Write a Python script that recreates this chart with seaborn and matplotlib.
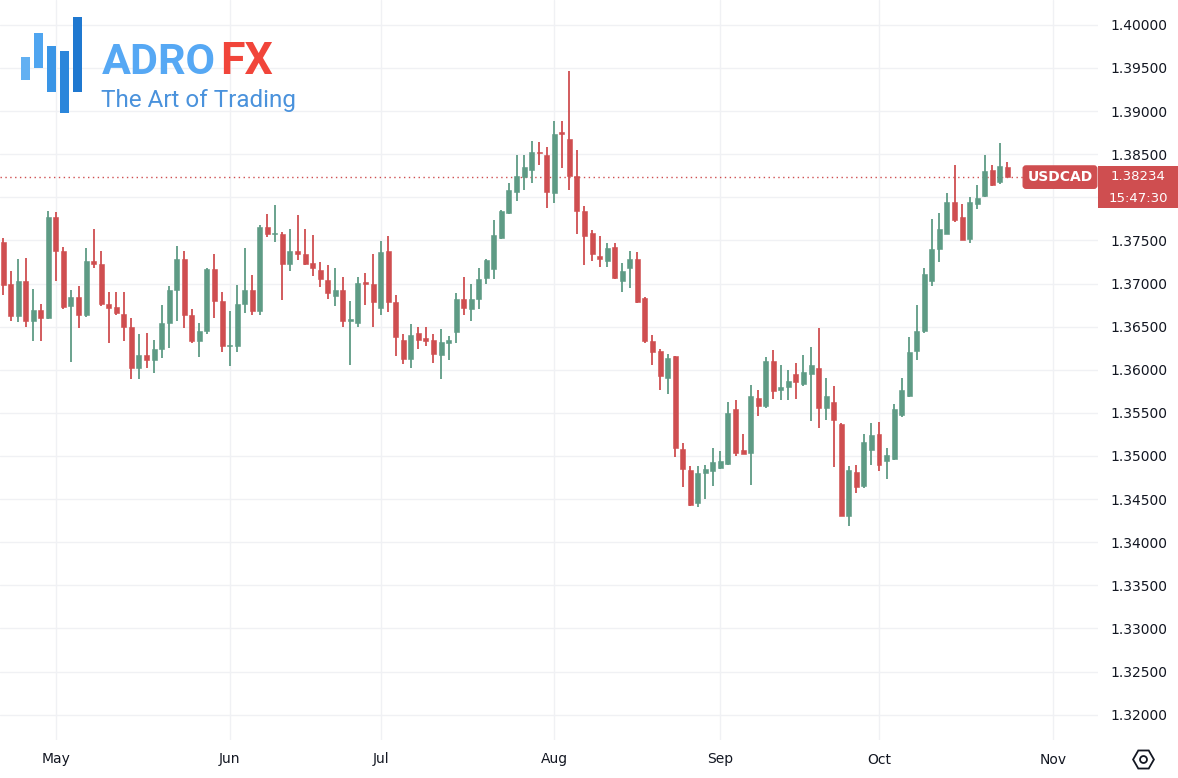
import numpy as np
import pandas as pd
import matplotlib
matplotlib.use("Agg")
import matplotlib.pyplot as plt
import seaborn as sns
from matplotlib.patches import Rectangle
from matplotlib.lines import Line2D
import matplotlib.transforms as mtrans

# ---------------- data (USDCAD daily) ----------------
START = "2024-04-22"
SYMBOL = "USDCAD"
LAST_PRICE_TEXT = "1.38234"
COUNTDOWN_TEXT = "15:47:30"

opens = [1.3748, 1.3699, 1.3662, 1.3703, 1.3657, 1.3669, 1.3660, 1.3777, 1.3738, 1.3674,
         1.3684, 1.3663, 1.3726, 1.3723, 1.3676, 1.3673, 1.3665, 1.3650, 1.3602, 1.3617,
         1.3611, 1.3624, 1.3654, 1.3693, 1.3729, 1.3664, 1.3633, 1.3645, 1.3717, 1.3680,
         1.3627, 1.3627, 1.3676, 1.3693, 1.3668, 1.3766, 1.3757, 1.3757, 1.3723, 1.3738,
         1.3734, 1.3724, 1.3716, 1.3704, 1.3686, 1.3692, 1.3657, 1.3654, 1.3702, 1.3699,
         1.3672, 1.3738, 1.3678, 1.3635, 1.3612, 1.3643, 1.3637, 1.3635, 1.3617, 1.3631,
         1.3644, 1.3682, 1.3671, 1.3682, 1.3706, 1.3717, 1.3753, 1.3782, 1.3806, 1.3823,
         1.3832, 1.3852, 1.3849, 1.3805, 1.3876, 1.3868, 1.3825, 1.3784, 1.3759, 1.3732,
         1.3726, 1.3742, 1.3703, 1.3718, 1.3728, 1.3683, 1.3633, 1.3622, 1.3590, 1.3616,
         1.3508, 1.3484, 1.3446, 1.3480, 1.3483, 1.3486, 1.3491, 1.3554, 1.3507, 1.3504,
         1.3567, 1.3558, 1.3610, 1.3576, 1.3580, 1.3595, 1.3584, 1.3595, 1.3602, 1.3556,
         1.3563, 1.3537, 1.3430, 1.3481, 1.3465, 1.3507, 1.3526, 1.3494, 1.3496, 1.3548,
         1.3569, 1.3622, 1.3645, 1.3703, 1.3740, 1.3757, 1.3795, 1.3777, 1.3752, 1.3792,
         1.3802, 1.3832, 1.3818, 1.3835]
highs = [1.3753, 1.3714, 1.3728, 1.3730, 1.3694, 1.3676, 1.3784, 1.3783, 1.3742, 1.3692,
         1.3697, 1.3741, 1.3763, 1.3738, 1.3690, 1.3690, 1.3690, 1.3660, 1.3641, 1.3643,
         1.3635, 1.3675, 1.3697, 1.3743, 1.3738, 1.3670, 1.3654, 1.3718, 1.3734, 1.3690,
         1.3668, 1.3698, 1.3741, 1.3710, 1.3768, 1.3781, 1.3791, 1.3760, 1.3763, 1.3779,
         1.3763, 1.3756, 1.3725, 1.3721, 1.3718, 1.3707, 1.3680, 1.3707, 1.3712, 1.3734,
         1.3749, 1.3755, 1.3687, 1.3641, 1.3653, 1.3649, 1.3649, 1.3642, 1.3647, 1.3639,
         1.3689, 1.3707, 1.3700, 1.3718, 1.3728, 1.3774, 1.3785, 1.3816, 1.3849, 1.3849,
         1.3865, 1.3864, 1.3858, 1.3888, 1.3888, 1.3946, 1.3855, 1.3790, 1.3762, 1.3755,
         1.3747, 1.3747, 1.3724, 1.3738, 1.3736, 1.3684, 1.3640, 1.3624, 1.3618, 1.3616,
         1.3515, 1.3488, 1.3488, 1.3490, 1.3509, 1.3506, 1.3563, 1.3565, 1.3525, 1.3582,
         1.3577, 1.3615, 1.3623, 1.3605, 1.3600, 1.3608, 1.3617, 1.3626, 1.3648, 1.3590,
         1.3581, 1.3538, 1.3488, 1.3490, 1.3526, 1.3538, 1.3539, 1.3509, 1.3560, 1.3590,
         1.3638, 1.3675, 1.3718, 1.3775, 1.3782, 1.3805, 1.3838, 1.3792, 1.3800, 1.3814,
         1.3849, 1.3837, 1.3863, 1.3841]
lows = [1.3687, 1.3656, 1.3655, 1.3650, 1.3633, 1.3633, 1.3659, 1.3703, 1.3670, 1.3609,
        1.3648, 1.3661, 1.3718, 1.3674, 1.3631, 1.3664, 1.3633, 1.3589, 1.3589, 1.3602,
        1.3596, 1.3614, 1.3625, 1.3657, 1.3648, 1.3631, 1.3615, 1.3641, 1.3660, 1.3620,
        1.3604, 1.3620, 1.3666, 1.3663, 1.3663, 1.3754, 1.3748, 1.3681, 1.3715, 1.3727,
        1.3721, 1.3709, 1.3696, 1.3682, 1.3674, 1.3650, 1.3605, 1.3650, 1.3675, 1.3650,
        1.3663, 1.3667, 1.3616, 1.3607, 1.3602, 1.3624, 1.3628, 1.3608, 1.3589, 1.3611,
        1.3631, 1.3664, 1.3657, 1.3670, 1.3700, 1.3705, 1.3752, 1.3781, 1.3796, 1.3808,
        1.3817, 1.3838, 1.3787, 1.3793, 1.3834, 1.3809, 1.3757, 1.3721, 1.3726, 1.3719,
        1.3719, 1.3705, 1.3690, 1.3695, 1.3677, 1.3631, 1.3605, 1.3576, 1.3572, 1.3499,
        1.3464, 1.3442, 1.3441, 1.3450, 1.3465, 1.3485, 1.3490, 1.3500, 1.3502, 1.3466,
        1.3546, 1.3556, 1.3566, 1.3565, 1.3565, 1.3566, 1.3581, 1.3541, 1.3533, 1.3542,
        1.3487, 1.3430, 1.3419, 1.3457, 1.3463, 1.3490, 1.3482, 1.3473, 1.3495, 1.3545,
        1.3568, 1.3611, 1.3643, 1.3697, 1.3725, 1.3757, 1.3771, 1.3750, 1.3747, 1.3786,
        1.3800, 1.3813, 1.3815, 1.38234]
closes = [1.3698, 1.3662, 1.3703, 1.3657, 1.3669, 1.3660, 1.3777, 1.3738, 1.3673, 1.3684,
          1.3664, 1.3726, 1.3723, 1.3676, 1.3672, 1.3666, 1.3649, 1.3602, 1.3617, 1.3611,
          1.3624, 1.3654, 1.3693, 1.3729, 1.3664, 1.3633, 1.3645, 1.3717, 1.3680, 1.3627,
          1.3628, 1.3676, 1.3693, 1.3668, 1.3766, 1.3757, 1.3758, 1.3723, 1.3738, 1.3734,
          1.3723, 1.3718, 1.3705, 1.3689, 1.3692, 1.3657, 1.3659, 1.3701, 1.3700, 1.3679,
          1.3736, 1.3678, 1.3638, 1.3612, 1.3640, 1.3634, 1.3633, 1.3618, 1.3632, 1.3634,
          1.3682, 1.3672, 1.3682, 1.3705, 1.3727, 1.3756, 1.3784, 1.3808, 1.3825, 1.3835,
          1.3852, 1.3851, 1.3806, 1.3873, 1.3873, 1.3825, 1.3784, 1.3755, 1.3734, 1.3729,
          1.3741, 1.3706, 1.3714, 1.3729, 1.3678, 1.3633, 1.3620, 1.3593, 1.3614, 1.3509,
          1.3485, 1.3443, 1.3480, 1.3485, 1.3493, 1.3494, 1.3550, 1.3504, 1.3502, 1.3570,
          1.3558, 1.3610, 1.3575, 1.3580, 1.3587, 1.3586, 1.3597, 1.3606, 1.3556, 1.3570,
          1.3542, 1.3430, 1.3484, 1.3464, 1.3516, 1.3524, 1.3490, 1.3501, 1.3554, 1.3576,
          1.3620, 1.3645, 1.3711, 1.3740, 1.3763, 1.3795, 1.3774, 1.3750, 1.3794, 1.3799,
          1.3830, 1.3814, 1.3836, 1.38234]

y_ticks = [1.320, 1.325, 1.330, 1.335, 1.340, 1.345, 1.350, 1.355, 1.360,
           1.365, 1.370, 1.375, 1.380, 1.385, 1.390, 1.395, 1.400]

# ---------------- styling ----------------
UP = "#5e9b85"
DOWN = "#cf4e50"
GRID = "#f0f1f4"
TXT = "#131722"
W, H = 1178, 778

sns.set_theme(style="white")
plt.rcParams["font.family"] = ["DejaVu Sans"]

df = pd.DataFrame({"open": opens, "high": highs, "low": lows, "close": closes})
df["date"] = pd.bdate_range(START, periods=len(df))
df["i"] = np.arange(len(df))
df["up"] = df["close"] >= df["open"]
df["color"] = np.where(df["up"], UP, DOWN)
df["bottom"] = df[["open", "close"]].min(axis=1)
df["height"] = (df["close"] - df["open"]).abs().clip(lower=0.00012)

fig = plt.figure(figsize=(W / 100, H / 100), dpi=100)
ax = fig.add_axes([0, 1 - 740 / H, 1098 / W, 740 / H])

# month ticks from business-day calendar
cal = pd.bdate_range(START, periods=len(df) + 12)
month_idx = [k for k in range(1, len(cal)) if cal[k].month != cal[k - 1].month]
month_lab = [cal[k].strftime("%b") for k in month_idx]

for k in month_idx:
    ax.axvline(k, color=GRID, lw=1, zorder=0)
for yt in y_ticks:
    ax.axhline(yt, color=GRID, lw=1, zorder=0)

ax.vlines(df["i"], df["low"], df["high"], colors=df["color"], lw=1.3, zorder=2)
ax.bar(df["i"], df["height"], bottom=df["bottom"], width=0.66,
       color=df["color"], edgecolor=df["color"], lw=0.4, zorder=3)

ax.set_xlim(-0.4, 145.0)
ax.set_ylim(1.31706, 1.40288)
for s in ax.spines.values():
    s.set_visible(False)
ax.set_facecolor("white")
ax.grid(False)

ax.set_xticks(month_idx)
ax.set_xticklabels(month_lab, fontsize=10, color=TXT)
ax.tick_params(axis="x", length=0, pad=9)
ax.yaxis.tick_right()
ax.set_yticks(y_ticks)
ax.set_yticklabels([f"{v:.5f}" for v in y_ticks], fontsize=10, color=TXT)
ax.tick_params(axis="y", length=0, pad=9)

# last price line & labels
last = closes[-1]
ax.axhline(last, xmin=0, xmax=1026 / 1098, color=DOWN, lw=1, ls=(0, (1, 2.5)), zorder=1)
trans = mtrans.blended_transform_factory(ax.transAxes, ax.transData)
ax.text(1060 / 1098, last, SYMBOL, transform=trans, ha="center", va="center",
        fontsize=10, fontweight="semibold", color="white", zorder=6,
        bbox=dict(boxstyle="round,pad=0.3,rounding_size=0.2", fc=DOWN, ec=DOWN))

fig.add_artist(Rectangle((1098 / W, 1 - 208 / H), 80 / W, 42 / H,
                         transform=fig.transFigure, fc=DOWN, ec="none", zorder=5))
fig.text(1138 / W, 1 - 177 / H, LAST_PRICE_TEXT, ha="center", va="center",
         fontsize=9.5, color="white", zorder=6)
fig.text(1138 / W, 1 - 198.5 / H, COUNTDOWN_TEXT, ha="center", va="center",
         fontsize=9.5, color="white", zorder=6)

# settings icon
fig.add_artist(Line2D([1143 / W], [1 - 759 / H], marker="H", markersize=15,
                      mfc="none", mec=TXT, mew=1.3, transform=fig.transFigure))
fig.add_artist(Line2D([1143 / W], [1 - 759 / H], marker="o", markersize=5,
                      mfc="none", mec=TXT, mew=1.3, transform=fig.transFigure))

# logo
bars = [(21, 57, 80, "#62b0f2"), (34, 33, 68, "#4fa5f0"), (47, 46, 92, "#3a95e6"),
        (60, 51, 113, "#2b86db"), (73, 17, 92, "#1f78d0")]
for x0, y0, y1, c in bars:
    fig.add_artist(Rectangle((x0 / W, 1 - y1 / H), 8.5 / W, (y1 - y0) / H,
                             transform=fig.transFigure, fc=c, ec="none", zorder=5))
fig.text(102 / W, 1 - 62 / H, "ADRO", fontsize=31, fontweight="bold",
         color="#56a8f4", va="center", ha="left", family="Roboto", zorder=6)
fig.text(220 / W, 1 - 62 / H, "FX", fontsize=32, fontweight="bold",
         color="#f1453a", va="center", ha="left", family="Roboto", zorder=6)
fig.text(101 / W, 1 - 101 / H, "The Art of Trading", fontsize=17.5, fontweight="normal",
         color="#4a92dc", va="center", ha="left", family="Roboto", zorder=6)

fig.savefig("out.png", dpi=100, facecolor="white")
